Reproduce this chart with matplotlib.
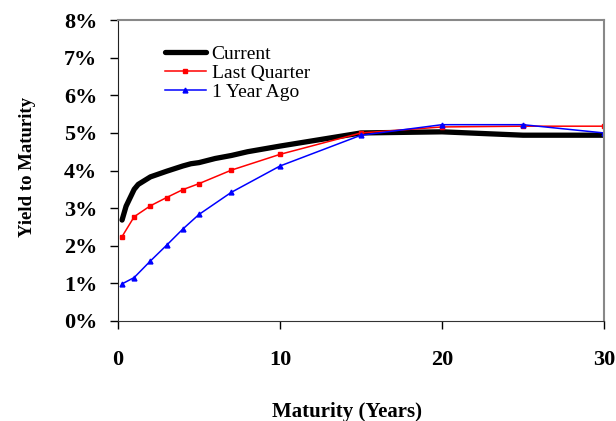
import matplotlib.pyplot as plt
from matplotlib.ticker import FuncFormatter

# maturities (years) and yields (%)
current_years = [0.25, 0.5, 1, 1.25, 2, 3, 4, 4.5, 5, 6, 7, 8, 10, 15, 20, 25, 30]
current_yield = [2.68, 3.05, 3.50, 3.63, 3.83, 3.98, 4.12, 4.18, 4.21, 4.32, 4.40, 4.50, 4.65, 5.00, 5.03, 4.94, 4.94]

quarter_years = [0.25, 1, 2, 3, 4, 5, 7, 10, 15, 20, 25, 30]
quarter_yield = [2.24, 2.77, 3.06, 3.28, 3.49, 3.65, 4.01, 4.43, 5.00, 5.16, 5.18, 5.18]

year_ago_years = [0.25, 1, 2, 3, 4, 5, 7, 10, 15, 20, 25, 30]
year_ago_yield = [0.98, 1.15, 1.59, 2.01, 2.44, 2.83, 3.42, 4.12, 4.94, 5.22, 5.22, 5.00]

x_ticks = [0, 10, 20, 30]
y_ticks = [0, 1, 2, 3, 4, 5, 6, 7, 8]

plt.rcParams['font.family'] = ['Liberation Serif', 'DejaVu Serif']

W, H = 616, 421
fig = plt.figure(figsize=(W / 100, H / 100), dpi=100)
ax = fig.add_axes([118 / W, 1 - 320.7 / H, (604 - 118) / W, (320.7 - 20.3) / H])

ax.plot(current_years, current_yield, color='black', linewidth=3.8, solid_capstyle='round',
        label='Current')
ax.plot(quarter_years, quarter_yield, color='#ff0000', linewidth=1.1, marker='s', markersize=2.5,
        label='Last Quarter')
ax.plot(year_ago_years, year_ago_yield, color='#0000ff', linewidth=1.1, marker='^', markersize=3.5,
        label='1 Year Ago')

ax.set_xlim(0, 30)
ax.set_ylim(0, 8)
ax.set_xticks(x_ticks)
ax.set_yticks(y_ticks)
ax.yaxis.set_major_formatter(FuncFormatter(lambda v, p: f'{int(v)}%'))

for lab in ax.get_xticklabels() + ax.get_yticklabels():
    lab.set_fontweight('bold')
    lab.set_fontsize(16)
ax.tick_params(axis='y', direction='out', length=6, width=1, pad=9, colors='black')
ax.tick_params(axis='x', direction='out', length=6, width=1, pad=15, colors='black')

ax.spines['left'].set_color('#222222')
ax.spines['bottom'].set_color('#333333')
ax.spines['top'].set_color('#888888')
ax.spines['right'].set_color('#888888')
ax.spines['top'].set_linewidth(1.5)
ax.spines['right'].set_linewidth(1.5)

fig.text(27 / W, 1 - 167 / H, 'Yield to Maturity', rotation=90, ha='center', va='center',
         fontsize=13.5, fontweight='bold')
fig.text(346.7 / W, 1 - 412 / H, 'Maturity (Years)', ha='center', va='center',
         fontsize=15, fontweight='bold')

ax.legend(loc='upper left', bbox_to_anchor=(165 / W, 1 - 45 / H), bbox_transform=fig.transFigure,
          frameon=False, fontsize=14, borderpad=0, borderaxespad=0, handlelength=2.1,
          handletextpad=0.3, labelspacing=0.08)

fig.savefig('out.png', dpi=100)
